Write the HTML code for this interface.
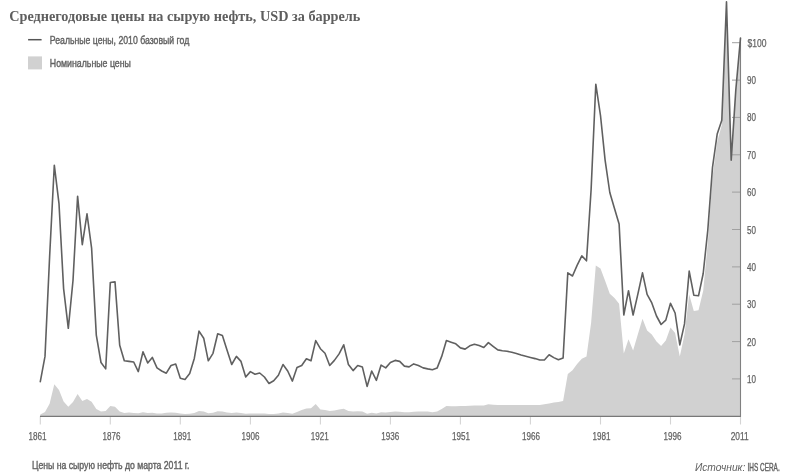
<!DOCTYPE html>
<html lang="ru"><head><meta charset="utf-8"><title>Среднегодовые цены на сырую нефть</title>
<style>
html,body{margin:0;padding:0;background:#fff;}
body{width:790px;height:476px;overflow:hidden;}
svg{display:block;}
svg text{font-family:"Liberation Sans",sans-serif;fill:#626262;stroke:#626262;stroke-width:0.4;}
svg text.a{stroke-width:0.25;}
svg text.i{stroke:none;}
svg text.t{font-family:"Liberation Serif",serif;font-weight:bold;fill:#5e5e5e;stroke:none;}
</style></head><body>
<svg width="790" height="476" viewBox="0 0 790 476">
<rect width="790" height="476" fill="#fff"/>
<polygon points="40.3,416.3 40.3,414.4 45.0,412.1 49.6,403.8 54.3,384.2 59.0,390.1 63.6,401.4 68.3,406.7 73.0,401.9 77.6,393.9 82.3,400.9 87.0,399.0 91.6,401.8 96.3,409.0 101.0,411.6 105.7,410.9 110.3,406.1 115.0,406.7 119.7,411.6 124.3,412.9 129.0,412.5 133.7,412.9 138.3,413.2 143.0,412.3 147.7,413.0 152.3,412.8 157.0,413.5 161.7,413.6 166.3,412.8 171.0,412.6 175.7,412.8 180.3,413.6 185.0,414.1 189.7,413.8 194.3,413.0 199.0,410.9 203.7,411.6 208.3,413.2 213.0,412.7 217.7,411.2 222.4,411.6 227.0,412.5 231.7,413.1 236.4,412.6 241.0,412.9 245.7,413.8 250.4,413.4 255.0,413.4 259.7,413.4 264.4,413.5 269.0,413.9 273.7,413.9 278.4,413.4 283.0,412.5 287.7,413.1 292.4,413.8 297.0,411.9 301.7,410.1 306.4,408.4 311.0,408.3 315.7,404.1 320.4,409.4 325.0,409.9 329.7,411.0 334.4,410.6 339.1,409.6 343.7,408.8 348.4,411.1 353.1,411.6 357.7,411.2 362.4,411.6 367.1,413.7 371.7,412.8 376.4,413.6 381.1,412.3 385.7,412.4 390.4,412.0 395.1,411.6 399.7,411.8 404.4,412.2 409.1,412.2 413.7,411.8 418.4,411.6 423.1,411.5 427.7,411.5 432.4,412.2 437.1,411.4 441.7,409.0 446.4,406.0 451.1,406.2 455.8,406.2 460.4,406.0 465.1,406.0 469.8,405.7 474.4,405.5 479.1,405.5 483.8,405.5 488.4,404.3 493.1,404.7 497.8,405.1 502.4,405.1 507.1,405.1 511.8,405.1 516.4,405.1 521.1,405.1 525.8,405.1 530.4,405.1 535.1,405.1 539.8,405.1 544.4,404.3 549.1,403.6 553.8,402.5 558.4,402.1 563.1,401.0 567.8,374.1 572.5,370.3 577.1,364.0 581.8,358.8 586.5,356.5 591.1,322.9 595.8,265.4 600.5,268.4 605.1,280.7 609.8,293.8 614.5,297.9 619.1,303.8 623.8,353.5 628.5,339.3 633.1,350.5 637.8,334.5 642.5,318.8 647.1,330.4 651.8,334.5 656.5,341.6 661.1,346.1 665.8,340.5 670.5,327.4 675.1,333.0 679.8,356.5 684.5,334.5 689.2,294.5 693.8,310.9 698.5,310.2 703.2,290.8 707.8,242.6 712.5,177.2 717.2,141.7 721.8,124.9 726.5,5.3 731.2,162.3 735.8,91.3 740.5,38.2 740.5,416.3" fill="#d1d1d1"/>
<line x1="40.3" y1="416.3" x2="40.3" y2="424.5" stroke="#d4d4d4" stroke-width="1.1"/>
<text x="28.6" y="439.5" font-size="11" textLength="18.0" lengthAdjust="spacingAndGlyphs" text-anchor="start" class="a">1861</text>
<line x1="110.3" y1="416.3" x2="110.3" y2="424.5" stroke="#d4d4d4" stroke-width="1.1"/>
<text x="102.4" y="439.5" font-size="11" textLength="18.0" lengthAdjust="spacingAndGlyphs" text-anchor="start" class="a">1876</text>
<line x1="180.3" y1="416.3" x2="180.3" y2="424.5" stroke="#d4d4d4" stroke-width="1.1"/>
<text x="173.2" y="439.5" font-size="11" textLength="18.0" lengthAdjust="spacingAndGlyphs" text-anchor="start" class="a">1891</text>
<line x1="250.4" y1="416.3" x2="250.4" y2="424.5" stroke="#d4d4d4" stroke-width="1.1"/>
<text x="241.4" y="439.5" font-size="11" textLength="18.0" lengthAdjust="spacingAndGlyphs" text-anchor="start" class="a">1906</text>
<line x1="320.4" y1="416.3" x2="320.4" y2="424.5" stroke="#d4d4d4" stroke-width="1.1"/>
<text x="310.8" y="439.5" font-size="11" textLength="18.0" lengthAdjust="spacingAndGlyphs" text-anchor="start" class="a">1921</text>
<line x1="390.4" y1="416.3" x2="390.4" y2="424.5" stroke="#d4d4d4" stroke-width="1.1"/>
<text x="381.3" y="439.5" font-size="11" textLength="18.0" lengthAdjust="spacingAndGlyphs" text-anchor="start" class="a">1936</text>
<line x1="460.4" y1="416.3" x2="460.4" y2="424.5" stroke="#d4d4d4" stroke-width="1.1"/>
<text x="452.1" y="439.5" font-size="11" textLength="18.0" lengthAdjust="spacingAndGlyphs" text-anchor="start" class="a">1951</text>
<line x1="530.4" y1="416.3" x2="530.4" y2="424.5" stroke="#d4d4d4" stroke-width="1.1"/>
<text x="522.1" y="439.5" font-size="11" textLength="18.0" lengthAdjust="spacingAndGlyphs" text-anchor="start" class="a">1966</text>
<line x1="600.5" y1="416.3" x2="600.5" y2="424.5" stroke="#d4d4d4" stroke-width="1.1"/>
<text x="592.5" y="439.5" font-size="11" textLength="18.0" lengthAdjust="spacingAndGlyphs" text-anchor="start" class="a">1981</text>
<line x1="670.5" y1="416.3" x2="670.5" y2="424.5" stroke="#d4d4d4" stroke-width="1.1"/>
<text x="663.5" y="439.5" font-size="11" textLength="18.0" lengthAdjust="spacingAndGlyphs" text-anchor="start" class="a">1996</text>
<line x1="740.5" y1="416.3" x2="740.5" y2="424.5" stroke="#d4d4d4" stroke-width="1.1"/>
<text x="730.7" y="439.5" font-size="11" textLength="18.0" lengthAdjust="spacingAndGlyphs" text-anchor="start" class="a">2011</text>
<line x1="732" y1="378.9" x2="740.5" y2="378.9" stroke="#a0a0a0" stroke-width="1"/>
<text x="747" y="382.9" font-size="11" textLength="9" lengthAdjust="spacingAndGlyphs" text-anchor="start" class="a">10</text>
<line x1="732" y1="341.6" x2="740.5" y2="341.6" stroke="#a0a0a0" stroke-width="1"/>
<text x="747" y="345.6" font-size="11" textLength="9" lengthAdjust="spacingAndGlyphs" text-anchor="start" class="a">20</text>
<line x1="732" y1="304.2" x2="740.5" y2="304.2" stroke="#a0a0a0" stroke-width="1"/>
<text x="747" y="308.2" font-size="11" textLength="9" lengthAdjust="spacingAndGlyphs" text-anchor="start" class="a">30</text>
<line x1="732" y1="266.9" x2="740.5" y2="266.9" stroke="#a0a0a0" stroke-width="1"/>
<text x="747" y="270.9" font-size="11" textLength="9" lengthAdjust="spacingAndGlyphs" text-anchor="start" class="a">40</text>
<line x1="732" y1="229.5" x2="740.5" y2="229.5" stroke="#a0a0a0" stroke-width="1"/>
<text x="747" y="233.5" font-size="11" textLength="9" lengthAdjust="spacingAndGlyphs" text-anchor="start" class="a">50</text>
<line x1="732" y1="192.1" x2="740.5" y2="192.1" stroke="#a0a0a0" stroke-width="1"/>
<text x="747" y="196.1" font-size="11" textLength="9" lengthAdjust="spacingAndGlyphs" text-anchor="start" class="a">60</text>
<line x1="732" y1="154.8" x2="740.5" y2="154.8" stroke="#a0a0a0" stroke-width="1"/>
<text x="747" y="158.8" font-size="11" textLength="9" lengthAdjust="spacingAndGlyphs" text-anchor="start" class="a">70</text>
<line x1="732" y1="117.4" x2="740.5" y2="117.4" stroke="#a0a0a0" stroke-width="1"/>
<text x="747" y="121.4" font-size="11" textLength="9" lengthAdjust="spacingAndGlyphs" text-anchor="start" class="a">80</text>
<line x1="732" y1="80.1" x2="740.5" y2="80.1" stroke="#a0a0a0" stroke-width="1"/>
<text x="747" y="84.1" font-size="11" textLength="9" lengthAdjust="spacingAndGlyphs" text-anchor="start" class="a">90</text>
<line x1="732" y1="42.7" x2="740.5" y2="42.7" stroke="#a0a0a0" stroke-width="1"/>
<text x="747.6" y="46.7" font-size="11" textLength="19" lengthAdjust="spacingAndGlyphs" text-anchor="start" class="a">$100</text>
<line x1="40" y1="416.3" x2="741" y2="416.3" stroke="#787878" stroke-width="1.2"/>
<line x1="740.5" y1="38" x2="740.5" y2="416.8" stroke="#808080" stroke-width="1.1"/>
<polyline points="40.3,381.7 45.0,356.4 49.6,257.0 54.3,165.2 59.0,203.7 63.6,288.6 68.3,328.3 73.0,280.5 77.6,196.2 82.3,244.6 87.0,213.8 91.6,248.1 96.3,335.1 101.0,362.5 105.7,368.9 110.3,282.5 115.0,281.9 119.7,345.2 124.3,360.8 129.0,361.4 133.7,362.0 138.3,371.6 143.0,351.7 147.7,362.9 152.3,357.4 157.0,367.9 161.7,371.0 166.3,373.2 171.0,365.5 175.7,364.1 180.3,378.3 185.0,379.5 189.7,373.6 194.3,358.4 199.0,331.1 203.7,338.2 208.3,360.8 213.0,353.3 217.7,333.7 222.4,335.5 227.0,349.9 231.7,364.5 236.4,356.4 241.0,361.4 245.7,377.0 250.4,371.6 255.0,374.2 259.7,373.0 264.4,377.0 269.0,383.5 273.7,380.7 278.4,375.2 283.0,364.5 287.7,371.0 292.4,381.1 297.0,367.5 301.7,365.5 306.4,358.8 311.0,360.8 315.7,340.6 320.4,348.7 325.0,353.3 329.7,365.5 334.4,360.4 339.1,353.9 343.7,344.8 348.4,364.5 353.1,370.6 357.7,365.5 362.4,367.1 367.1,386.4 371.7,371.0 376.4,380.3 381.1,365.1 385.7,367.9 390.4,362.5 395.1,360.4 399.7,361.4 404.4,366.1 409.1,366.9 413.7,363.9 418.4,365.5 423.1,367.9 427.7,368.9 432.4,369.7 437.1,368.1 441.7,356.4 446.4,340.6 451.1,342.2 455.8,343.8 460.4,347.9 465.1,349.1 469.8,345.8 474.4,344.2 479.1,345.6 483.8,347.5 488.4,342.6 493.1,346.3 497.8,349.9 502.4,350.7 507.1,351.3 511.8,352.3 516.4,353.5 521.1,355.0 525.8,356.2 530.4,357.4 535.1,358.6 539.8,360.0 544.4,360.0 549.1,354.8 553.8,357.6 558.4,359.8 563.1,358.0 567.8,272.9 572.5,276.0 577.1,265.4 581.8,255.9 586.5,260.8 591.1,189.7 595.8,84.2 600.5,115.5 605.1,160.1 609.8,192.5 614.5,208.5 619.1,223.9 623.8,315.0 628.5,290.7 633.1,315.0 637.8,294.4 642.5,272.9 647.1,294.4 651.8,302.9 656.5,316.0 661.1,324.5 665.8,320.1 670.5,303.3 675.1,313.0 679.8,344.9 684.5,323.9 689.2,271.1 693.8,295.2 698.5,295.8 703.2,273.5 707.8,230.0 712.5,167.4 717.2,134.0 721.8,120.3 726.5,1.9 731.2,160.3 735.8,90.0 740.5,38.0" fill="none" stroke="#606060" stroke-width="1.6" stroke-linejoin="round" stroke-linecap="round"/>
<text class="t" x="9.2" y="21.3" font-size="13.8" textLength="351.2" lengthAdjust="spacingAndGlyphs">Среднегодовые цены на сырую нефть, USD за баррель</text>
<line x1="28.1" y1="39.7" x2="41.6" y2="39.7" stroke="#555" stroke-width="1.5"/>
<text x="49.8" y="43.9" font-size="11" textLength="139.5" lengthAdjust="spacingAndGlyphs" text-anchor="start" >Реальные цены, 2010 базовый год</text>
<rect x="28" y="56.4" width="14" height="13" fill="#d1d1d1"/>
<text x="49.8" y="67.0" font-size="11" textLength="81.1" lengthAdjust="spacingAndGlyphs" text-anchor="start" >Номинальные цены</text>
<text x="32.0" y="468.6" font-size="11" textLength="157.4" lengthAdjust="spacingAndGlyphs" text-anchor="start" >Цены на сырую нефть до марта 2011 г.</text>
<text x="694.9" y="470.6" font-size="10.2" font-style="italic" class="i" textLength="50.4" lengthAdjust="spacingAndGlyphs">Источник:</text>
<text x="747.5" y="470.6" font-size="10.2" textLength="32.2" lengthAdjust="spacingAndGlyphs" text-anchor="start" >IHS CERA.</text>
</svg>
</body></html>
